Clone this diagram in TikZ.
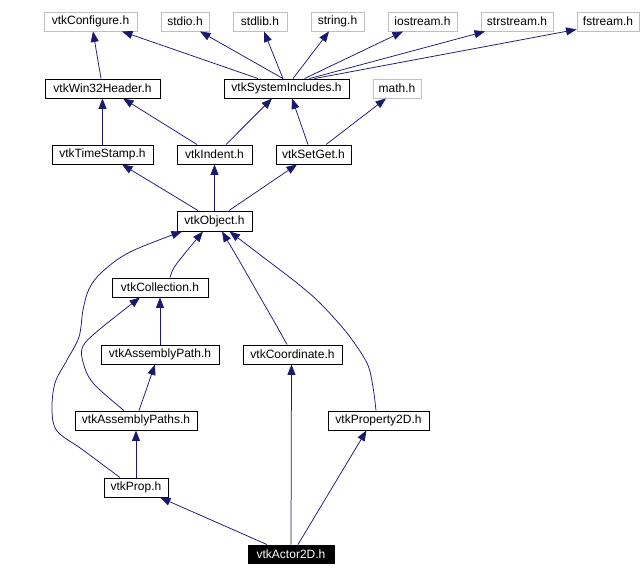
\documentclass[tikz,border=0pt]{standalone}
\usepackage{fontspec}
\setmainfont{Liberation Sans}
\usetikzlibrary{arrows.meta}
\definecolor{edgec}{RGB}{25,25,112}
\definecolor{grayb}{RGB}{191,191,191}
\begin{document}
\begin{tikzpicture}[x=1pt,y=-1pt,
 box/.style={draw=black, line width=0.9pt, inner sep=0pt, minimum height=19pt, font=\fontsize{12}{14}\selectfont},
 ext/.style={box, draw=grayb},
 edge/.style={draw=edgec, line width=0.75pt, -{Triangle[length=10.5pt,width=8pt]}},
]
\useasboundingbox (0,0) rectangle (641,576);
% top row
\node[ext, minimum width=93pt] (conf) at (90.5,21.5) {vtkConfigure.h};
\node[ext, minimum width=48pt] (stdio) at (185,21.5) {stdio.h};
\node[ext, minimum width=54pt] (stdlib) at (260,21.5) {stdlib.h};
\node[ext, minimum width=53pt] (string) at (337.5,21.5) {string.h};
\node[ext, minimum width=69pt] (iostream) at (422.5,21.5) {iostream.h};
\node[ext, minimum width=72pt] (strstream) at (517,21.5) {strstream.h};
\node[ext, minimum width=62pt] (fstream) at (608,21.5) {fstream.h};
% row 2
\node[box, minimum width=115pt] (win) at (102.5,88.5) {vtkWin32Header.h};
\node[box, minimum width=125pt] (sys) at (286.5,88.5) {vtkSystemIncludes.h};
\node[ext, minimum width=48pt] (math) at (397,88.5) {math.h};
% row 3
\node[box, minimum width=101pt] (ts) at (102.5,154.5) {vtkTimeStamp.h};
\node[box, minimum width=75pt] (ind) at (214.5,154.5) {vtkIndent.h};
\node[box, minimum width=75pt] (sg) at (313.5,154.5) {vtkSetGet.h};
% row 4
\node[box, minimum width=75pt, minimum height=20pt] (obj) at (214.5,221) {vtkObject.h};
% row 5
\node[box, minimum width=96pt] (coll) at (160,287.5) {vtkCollection.h};
% row 6
\node[box, minimum width=118pt] (ap) at (160,354.5) {vtkAssemblyPath.h};
\node[box, minimum width=99pt] (coord) at (292.5,354.5) {vtkCoordinate.h};
% row 7
\node[box, minimum width=122pt] (aps) at (136,420.5) {vtkAssemblyPaths.h};
\node[box, minimum width=101pt] (p2d) at (378.5,420.5) {vtkProperty2D.h};
% row 8
\node[box, minimum width=64pt] (prop) at (136,487.5) {vtkProp.h};
% bottom
\node[box, minimum width=86pt, minimum height=18pt, fill=black, text=white] (act) at (291,554) {vtkActor2D.h};

% edges to top row
\draw[edge] ([xshift=-1.5pt]win.north) -- ([xshift=2.5pt]conf.south);
\draw[edge] ([xshift=-28.5pt]sys.north) -- ([xshift=31.5pt]conf.south);
\draw[edge] ([xshift=-3.5pt]sys.north) -- ([xshift=15pt]stdio.south);
\draw[edge] ([xshift=-3.5pt]sys.north) -- ([xshift=4pt]stdlib.south);
\draw[edge] ([xshift=6.5pt]sys.north) -- ([xshift=-8.5pt]string.south);
\draw[edge] ([xshift=18pt]sys.north) -- ([xshift=-19.5pt]iostream.south);
\draw[edge] ([xshift=23pt]sys.north) -- ([xshift=-32pt]strstream.south);
\draw[edge] ([xshift=28pt]sys.north) -- ([yshift=2pt]fstream.south west);
% row 3 -> row 2
\draw[edge] (ts.north) -- (win.south);
\draw[edge] ([xshift=-17.5pt]ind.north) -- ([xshift=20.5pt]win.south);
\draw[edge] ([xshift=11.5pt]ind.north) -- ([xshift=-14.5pt]sys.south);
\draw[edge] ([xshift=-5.5pt]sg.north) -- ([xshift=5.5pt]sys.south);
\draw[edge] ([xshift=12.5pt]sg.north) -- ([xshift=-11pt]math.south);
% object -> row 3
\draw[edge] ([xshift=-16.5pt]obj.north) -- ([xshift=19.5pt]ts.south);
\draw[edge] (obj.north) -- (ind.south);
\draw[edge] ([xshift=14.5pt]obj.north) -- ([xshift=-16.5pt]sg.south);
% to object
\draw[edge] ([xshift=10pt]coll.north) .. controls ([xshift=13pt,yshift=10pt]coll.north) .. ([xshift=-11.5pt]obj.south);
\coordinate (pa) at ([xshift=-16pt]prop.north);
\coordinate (pb) at ([xshift=-32.5pt]obj.south);
\draw[edge] plot[smooth, tension=0.55] coordinates {(pa) (83,450) (57,431) (52,410) (55,383) (67,360) (79,337) (83,310) (89,289) (102,272) (130,252) (pb)};
\coordinate (ca) at ([xshift=-5.5pt]coord.north);
\coordinate (cb) at ([xshift=7.5pt]obj.south);
\draw[edge] plot[smooth, tension=0.5] coordinates {(ca) (275,323) (260,297) (240,262) (cb)};
\coordinate (qa) at ([xshift=-2.5pt]p2d.north);
\coordinate (qb) at ([xshift=15pt]obj.south);
\draw[edge] plot[smooth, tension=0.5] coordinates {(qa) (373,387) (367,363) (347,333) (320,303) (297,283) (263,257) (qb)};
% to collection
\draw[edge] (ap.north) -- (coll.south);
\coordinate (ra) at ([xshift=-12pt]aps.north);
\coordinate (rb) at ([xshift=-20pt]coll.south);
\draw[edge] plot[smooth, tension=0.55] coordinates {(ra) (93,383) (83,362) (83,346) (100,329) (rb)};
\draw[edge] ([xshift=3pt]aps.north) -- ([xshift=-5pt]ap.south);
% to assembly paths
\draw[edge] (prop.north) -- (aps.south);
% from actor
\draw[edge] ([xshift=-24pt]act.north) -- ([xshift=24pt]prop.south);
\draw[edge] (act.north) -- ([xshift=-1pt]coord.south);
\draw[edge] ([xshift=7pt]act.north) -- ([xshift=-12pt]p2d.south);
\end{tikzpicture}
\end{document}
